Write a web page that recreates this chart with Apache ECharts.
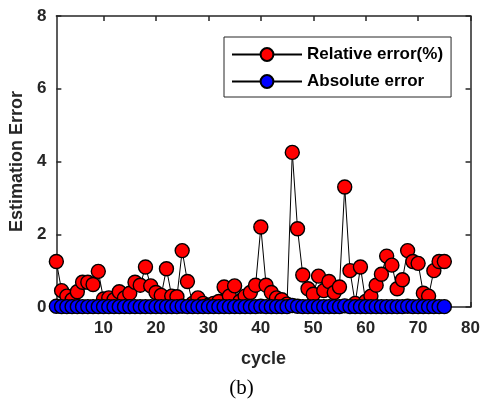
<!DOCTYPE html>
<html><head><meta charset="utf-8">
<script src="https://cdn.jsdelivr.net/npm/echarts@6/dist/echarts.min.js"></script>
<style>html,body{margin:0;padding:0;background:#fff}#c{width:483px;height:400px}</style>
</head><body><div id="c"></div>
<script>
const cycles = Array.from({length: 75}, (_, i) => i + 1);
const relativeError = [1.25,0.45,0.3,0.2,0.42,0.68,0.68,0.62,0.98,0.22,
  0.25,0.2,0.42,0.25,0.38,0.68,0.6,1.1,0.58,0.4,
  0.32,1.05,0.3,0.28,1.55,0.7,0.1,0.25,0.1,0.05,
  0.1,0.15,0.55,0.3,0.58,0.15,0.3,0.4,0.6,2.2,
  0.6,0.4,0.25,0.2,0.08,4.25,2.15,0.88,0.5,0.35,
  0.85,0.45,0.7,0.4,0.55,3.3,1.0,0.1,1.1,0.15,
  0.3,0.6,0.9,1.4,1.15,0.5,0.75,1.55,1.25,1.2,
  0.38,0.3,1.0,1.25,1.25];
const absoluteError = [0.02,0.01,0.01,0.01,0.01,0.01,0.01,0.01,0.01,0.01,
  0.01,0.01,0.01,0.01,0.01,0.01,0.01,0.01,0.01,0.01,
  0.01,0.01,0.01,0.01,0.02,0.01,0.01,0.01,0.01,0.01,
  0.01,0.01,0.01,0.01,0.01,0.01,0.01,0.01,0.01,0.02,
  0.01,0.01,0.01,0.01,0.01,0.04,0.02,0.01,0.01,0.01,
  0.01,0.01,0.01,0.01,0.01,0.03,0.01,0.01,0.01,0.01,
  0.01,0.01,0.01,0.01,0.01,0.01,0.01,0.02,0.01,0.01,
  0.01,0.01,0.01,0.01,0.01];
const xTicks = [10,20,30,40,50,60,70,80];
const yTicks = [0,2,4,6,8];

const axisCol = '#262626';
const lblFont = {fontFamily:'Liberation Sans, Arial', fontWeight:'bold', fontSize:17, color:axisCol};
const chart = echarts.init(document.getElementById('c'), null, {renderer:'canvas'});
const xBase = {type:'value', min:1, max:80, interval:10,
  axisLine:{show:true, onZero:false, lineStyle:{color:axisCol, width:1.5}},
  axisTick:{show:true, inside:true, length:5, lineStyle:{color:axisCol, width:1.5},
    customValues: xTicks},
  splitLine:{show:false}};
const yBase = {type:'value', min:0, max:8, interval:2,
  axisLine:{show:true, lineStyle:{color:axisCol, width:1.5}},
  axisTick:{show:true, inside:true, length:5, lineStyle:{color:axisCol, width:1.5}},
  splitLine:{show:false}};
chart.setOption({
  animation:false,
  backgroundColor:'#fff',
  grid:{left:56, right:10, top:16, bottom:93},
  xAxis:[
    Object.assign({}, xBase, {position:'bottom', name:'cycle', nameLocation:'middle', nameGap:43,
      nameTextStyle:{fontFamily:'Liberation Sans, Arial', fontWeight:'bold', fontSize:18, color:axisCol},
      axisLabel:Object.assign({margin:13, customValues: xTicks, formatter: v => String(v)}, lblFont)}),
    Object.assign({}, xBase, {position:'top', axisLabel:{show:false}})
  ],
  yAxis:[
    Object.assign({}, yBase, {position:'left', name:'Estimation Error', nameLocation:'middle', nameGap:25,
      nameTextStyle:{fontFamily:'Liberation Sans, Arial', fontWeight:'bold', fontSize:18, color:axisCol},
      axisLabel:Object.assign({margin:10, customValues: yTicks}, lblFont)}),
    Object.assign({}, yBase, {position:'right', axisLabel:{show:false}})
  ],
  legend:{
    left:224, top:37, orient:'vertical',
    padding:[9,8,7,7], borderColor:axisCol, borderWidth:1, backgroundColor:'#fff',
    itemWidth:70, itemHeight:16, itemGap:10,
    textStyle:{fontFamily:'Liberation Sans, Arial', fontWeight:'bold', fontSize:17, color:'#000'},
    data:['Relative error(%)','Absolute error']
  },
  series:[
    {name:'Relative error(%)', type:'line', data: cycles.map((c,i)=>[c, relativeError[i]]),
      symbol:'circle', symbolSize:14,
      lineStyle:{color:'#000', width:1},
      itemStyle:{color:'#ff0000', borderColor:'#000', borderWidth:1.4}},
    {name:'Absolute error', type:'line', data: cycles.map((c,i)=>[c, absoluteError[i]]),
      symbol:'circle', symbolSize:14,
      lineStyle:{color:'#000', width:1},
      itemStyle:{color:'#0000ff', borderColor:'#000', borderWidth:1.4}}
  ],
  graphic:[{type:'text', left:'center', top:378,
    style:{text:'(b)', font:'21px "Liberation Serif", "Times New Roman", serif', fill:'#000'}}]
});
</script></body></html>
